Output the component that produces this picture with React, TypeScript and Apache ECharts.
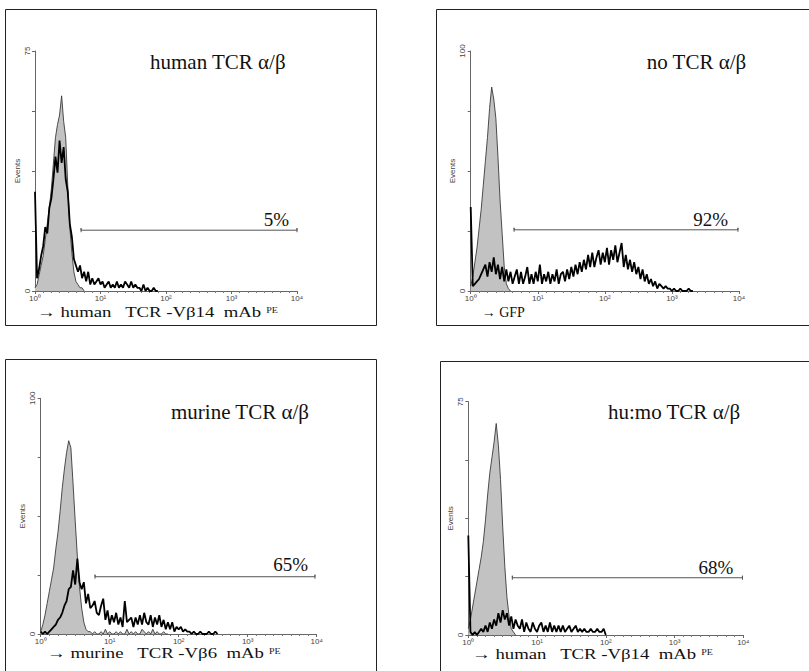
import React, { useEffect, useRef } from 'react';
import * as echarts from 'echarts';

// ---- data (channels: 32 per decade, 0..128 = 10^0..10^4) ----
const decadeLabels = ['10⁰', '10¹', '10²', '10³', '10⁴'];
const panelTitles = ['human TCR α/β', 'no TCR α/β', 'murine TCR α/β', 'hu:mo TCR α/β'];
const gatePercents = ['5%', '92%', '65%', '68%'];
const axisTitles = ['→ human   TCR -Vβ14  mAb ', '→ GFP', '→ murine   TCR -Vβ6  mAb ', '→ human   TCR -Vβ14  mAb '];
const axisSup = ['PE', '', 'PE', 'PE'];
const yMaxima = [75, 100, 100, 75];
const gateStart = [22.5, 20.7, 25.2, 20.5];
const gateEnd = [128, 127.5, 127.2, 127.6];
const gateLevel = [19, 25.5, 24.3, 18.4];

const humanCtrl = [1, 2, 5, 8, 11, 16, 21, 26, 32, 40, 48, 52, 55, 61, 53, 48, 33, 20, 12, 6, 3, 2, 1, 1, 0];
const humanStain = [31, 4, 7, 11, 14, 20, 18, 26, 29, 35, 42, 37, 47, 40, 45, 35, 31, 21, 17, 10, 8, 6, 8, 4, 6, 3, 6, 2, 4, 2, 3, 4, 2, 3, 1, 2, 3, 1, 2, 1, 3, 1, 2, 1, 3, 2, 1, 3, 1, 2, 1, 1, 0, 2, 0, 1, 0, 0, 1, 0, 0];

const noTcrCtrl = [2, 6, 12, 18, 26, 34, 44, 54, 64, 76, 85, 80, 72, 56, 38, 24, 10, 3, 1, 0];
const noTcrStain = [35, 2, 3, 4, 5, 7, 9, 11, 6, 12, 8, 14, 7, 11, 5, 10, 4, 9, 4, 8, 3, 6, 9, 3, 8, 3, 6, 10, 3, 7, 3, 8, 4, 11, 3, 7, 4, 8, 3, 7, 4, 9, 3, 7, 8, 4, 9, 5, 10, 6, 11, 7, 12, 8, 13, 9, 15, 10, 16, 10, 14, 17, 11, 16, 12, 18, 11, 17, 13, 19, 12, 16, 20, 10, 15, 9, 13, 8, 12, 7, 10, 5, 9, 4, 7, 3, 5, 2, 4, 1, 3, 2, 1, 2, 1, 1, 0, 1, 0, 0, 1, 0, 0, 0, 1, 0, 0];

const murineCtrl = [1, 4, 8, 13, 18, 23, 28, 36, 43, 52, 62, 70, 77, 82, 79, 64, 48, 33, 20, 11, 5, 2, 1, 1, 0, 1, 0, 0, 1, 0, 2, 0, 1, 0, 0, 1, 0, 1, 0, 0, 2, 0, 1, 0, 1, 0, 0, 2, 1, 0, 1, 0, 2, 0, 1, 0, 0, 1, 0, 0];
const murineStain = [1, 0, 1, 0, 1, 2, 3, 4, 6, 7, 9, 12, 14, 19, 20, 27, 21, 32, 22, 19, 22, 13, 17, 11, 12, 14, 9, 8, 12, 15, 6, 10, 4, 8, 5, 9, 4, 7, 3, 14, 5, 6, 7, 3, 7, 4, 8, 4, 9, 5, 4, 8, 3, 7, 4, 8, 3, 6, 2, 5, 2, 5, 1, 3, 2, 3, 1, 2, 1, 1, 0, 1, 0, 0, 1, 0, 0, 0, 1, 0, 0, 1, 0];

const humoCtrl = [2, 5, 9, 13, 17, 21, 25, 30, 37, 45, 52, 57, 62, 68, 61, 50, 35, 22, 12, 6, 2, 1, 0];
const humoStain = [32, 1, 0, 1, 0, 1, 2, 1, 3, 1, 4, 2, 5, 3, 7, 4, 8, 5, 7, 3, 6, 2, 5, 3, 2, 5, 1, 4, 2, 1, 4, 2, 1, 3, 4, 1, 3, 1, 4, 1, 3, 1, 3, 1, 3, 1, 2, 3, 1, 2, 3, 1, 2, 1, 2, 1, 1, 2, 1, 1, 2, 1, 1, 2, 0];

const controls = [humanCtrl, noTcrCtrl, murineCtrl, humoCtrl];
const stains = [humanStain, noTcrStain, murineStain, humoStain];

// ---- layout ----
const grids = [
  { left: 35, top: 51, width: 262, height: 240 },
  { left: 470.7, top: 51, width: 268.3, height: 240 },
  { left: 40.7, top: 398.3, width: 276, height: 235.7 },
  { left: 468.3, top: 401.7, width: 275, height: 233.3 },
];
const boxes = [
  { x: 5.5, y: 9.5, width: 371, height: 316 },
  { x: 436.5, y: 9.5, width: 380, height: 316 },
  { x: 5.5, y: 359.5, width: 371, height: 330 },
  { x: 440.5, y: 361.5, width: 380, height: 330 },
];
const titlePos = [[150, 62], [646.7, 62], [171, 411.7], [608, 411.7]];
const pctPos = [[289, 219], [728, 219], [308, 564], [733.3, 567]];
const xlabPos = [[37, 313], [481.7, 312], [47, 654], [472, 655]];
const xlabSize = [15, 14, 15, 15];
const xlabStretch = [1.25, 1.0, 1.25, 1.25];

const SERIF = '"Liberation Serif", "Times New Roman", serif';
const SANS = '"Liberation Sans", Arial, sans-serif';

export default function App() {
  const ref = useRef<HTMLDivElement>(null);
  useEffect(() => {
    if (!ref.current) return;
    const chart = echarts.init(ref.current, undefined, { renderer: 'svg' });
    const series: any[] = [];
    const xAxis: any[] = [];
    const yAxis: any[] = [];
    grids.forEach((g, i) => {
      const ymax = yMaxima[i];
      xAxis.push({
        type: 'value', gridIndex: i, min: 0, max: 128, interval: 32,
        axisLine: { lineStyle: { color: '#666', width: 1 } },
        axisTick: { show: true, length: 3, lineStyle: { color: '#666' } },
        minorTick: { show: true, splitNumber: 8, length: 2, lineStyle: { color: '#777' } },
        splitLine: { show: false },
        axisLabel: {
          formatter: (v: number) => decadeLabels[Math.round(v / 32)] || '',
          fontSize: 8, color: '#444', fontFamily: SANS, margin: 3,
        },
      });
      yAxis.push({
        type: 'value', gridIndex: i, min: 0, max: ymax, interval: ymax / 4,
        name: 'Events', nameLocation: 'middle', nameGap: 14, nameRotate: 90,
        nameTextStyle: { fontSize: 8, color: '#444', fontFamily: SANS },
        axisLine: { show: true, lineStyle: { color: '#666', width: 1 } },
        axisTick: { show: true, length: 3, lineStyle: { color: '#666' } },
        splitLine: { show: false },
        axisLabel: {
          formatter: (v: number) => (v === 0 || v === ymax ? String(v) : ''),
          rotate: 90, fontSize: 8, color: '#444', fontFamily: SANS, margin: 4,
        },
      });
      series.push({
        type: 'line', xAxisIndex: i, yAxisIndex: i, symbol: 'none', silent: true,
        data: controls[i].map((v, c) => [c, v]),
        lineStyle: { color: '#3a3a3a', width: 0.9 },
        areaStyle: { color: '#c2c2c2', opacity: 1 }, z: 2,
      });
      series.push({
        type: 'line', xAxisIndex: i, yAxisIndex: i, symbol: 'none', silent: true,
        data: stains[i].map((v, c) => [c, v]),
        lineStyle: { color: '#000', width: 1.8 }, z: 3,
      });
      const cap = (ymax * 2) / g.height;
      const y = gateLevel[i];
      series.push({
        type: 'line', xAxisIndex: i, yAxisIndex: i, symbol: 'none', silent: true,
        data: [
          [gateStart[i], y - cap], [gateStart[i], y + cap], [gateStart[i], y],
          [gateEnd[i], y], [gateEnd[i], y + cap], [gateEnd[i], y - cap],
        ],
        lineStyle: { color: '#555', width: 1 }, z: 4,
      });
    });

    const graphic: any[] = [];
    boxes.forEach((b) => {
      graphic.push({ type: 'rect', shape: b, style: { fill: 'none', stroke: '#222', lineWidth: 1 }, silent: true });
    });
    panelTitles.forEach((t, i) => {
      graphic.push({
        type: 'text', x: titlePos[i][0], y: titlePos[i][1],
        style: { text: t, font: `21px ${SERIF}`, fill: '#111', align: 'left', verticalAlign: 'middle' },
      });
      graphic.push({
        type: 'text', x: pctPos[i][0], y: pctPos[i][1],
        style: { text: gatePercents[i], font: `19px ${SERIF}`, fill: '#111', align: 'right', verticalAlign: 'middle' },
      });
      const sup = axisSup[i];
      graphic.push({
        type: 'text', x: xlabPos[i][0], y: xlabPos[i][1], scaleX: xlabStretch[i],
        style: {
          text: sup ? `{a|${axisTitles[i]}}{b|${sup}}` : `{a|${axisTitles[i]}}`,
          align: 'left', verticalAlign: 'middle',
          rich: {
            a: { fontSize: xlabSize[i], fontFamily: SERIF, fill: '#111', color: '#111', lineHeight: 14, verticalAlign: 'bottom' },
            b: { fontSize: 8, fontFamily: SERIF, fill: '#111', color: '#111', verticalAlign: 'top' },
          },
        },
      });
    });

    chart.setOption({
      animation: false,
      backgroundColor: '#fff',
      grid: grids.map((g) => ({ ...g, containLabel: false })),
      xAxis, yAxis, series, graphic,
    });
    return () => chart.dispose();
  }, []);
  return <div ref={ref} style={{ position: 'fixed', left: 0, top: 0, width: 809, height: 671 }} />;
}
